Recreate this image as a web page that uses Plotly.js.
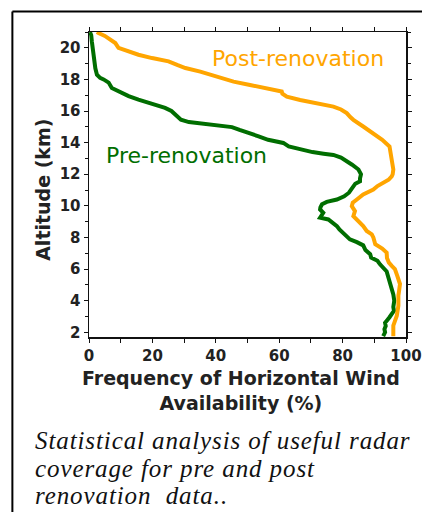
<!DOCTYPE html>
<html>
<head>
<meta charset="utf-8">
<script src="https://cdn.plot.ly/plotly-3.0.1.min.js"></script>
<style>
  html, body { margin: 0; padding: 0; background: #fff; }
  #chart { width: 422px; height: 512px; }
  g.annotation[data-index="4"] text,
  g.annotation[data-index="5"] text,
  g.annotation[data-index="6"] text { letter-spacing: 0.9px; }
</style>
</head>
<body>
<div id="chart"></div>
<script>
// Pre-renovation profile: altitude (km) and frequency (%)
const preAltitude = [21.0, 20.8, 20.4, 20.0, 19.6, 19.14, 18.7, 18.3, 18.1, 18.0, 17.8, 17.46, 17.25, 16.94, 16.72, 16.45, 16.2, 16.0, 15.7, 15.45, 15.3, 15.19, 15.1, 14.98, 14.8, 14.6, 14.4, 14.18, 13.98, 13.76, 13.56, 13.4, 13.3, 13.22, 13.05, 12.82, 12.6, 12.3, 12.0, 11.75, 11.56, 11.4, 11.24, 11.0, 10.83, 10.6, 10.4, 10.25, 10.1, 9.9, 9.77, 9.56, 9.4, 9.25, 9.14, 8.9, 8.72, 8.5, 8.3, 8.1, 7.88, 7.7, 7.5, 7.2, 6.94, 6.73, 6.52, 6.3, 6.1, 5.85, 5.5, 5.15, 4.8, 4.4, 4.0, 3.6, 3.36, 3.1, 2.95, 2.75, 2.6, 2.4, 2.2, 2.0, 1.75];
const preFrequency = [0.3, 0.7, 0.9, 1.1, 1.3, 1.5, 2.0, 2.5, 3.5, 4.6, 6.2, 7.2, 9.3, 12.5, 15.6, 19.8, 24.0, 26.0, 27.5, 29.0, 31.5, 35.6, 40.9, 45.1, 47.5, 50.8, 53.5, 56.5, 61.3, 63.0, 66.6, 70.5, 74.0, 77.1, 79.5, 81.5, 83.0, 85.0, 85.8, 85.5, 85.5, 84.0, 83.4, 82.5, 82.0, 80.5, 78.2, 75.0, 73.5, 73.0, 72.9, 73.9, 73.2, 72.9, 75.5, 77.0, 78.2, 79.0, 80.2, 81.3, 82.3, 84.5, 86.5, 87.2, 88.7, 89.0, 91.0, 91.8, 92.8, 93.9, 94.4, 95.0, 95.5, 96.0, 96.3, 96.0, 96.2, 95.5, 94.8, 94.0, 93.4, 93.6, 93.2, 93.4, 92.8];

// Post-renovation profile: altitude (km) and frequency (%)
const postAltitude = [21.0, 20.93, 20.75, 20.6, 20.45, 20.3, 20.0, 19.77, 19.56, 19.35, 19.14, 18.9, 18.72, 18.49, 18.17, 17.86, 17.65, 17.44, 17.23, 17.1, 16.91, 16.7, 16.5, 16.28, 16.1, 15.87, 15.6, 15.44, 15.02, 14.6, 14.18, 13.76, 13.5, 13.13, 12.7, 12.3, 12.0, 11.87, 11.65, 11.46, 11.25, 11.03, 10.72, 10.4, 10.2, 9.98, 9.67, 9.35, 9.04, 8.72, 8.41, 8.2, 8.0, 7.57, 7.3, 7.04, 6.7, 6.41, 6.2, 6.0, 5.6, 5.2, 5.05, 4.6, 4.31, 3.68, 3.05, 2.7, 2.42, 2.0, 1.75];
const postFrequency = [2.5, 3.0, 5.0, 6.2, 7.5, 8.3, 9.3, 12.5, 15.6, 19.9, 25.1, 28.0, 30.4, 35.1, 40.3, 45.6, 50.8, 56.1, 60.8, 61.0, 62.4, 66.6, 71.9, 77.1, 79.5, 81.3, 82.5, 83.4, 86.5, 89.7, 92.5, 94.8, 95.0, 95.5, 95.8, 96.0, 95.8, 95.5, 94.5, 92.8, 91.0, 89.7, 86.5, 84.5, 83.2, 82.9, 83.9, 83.4, 85.0, 86.5, 87.6, 89.2, 89.7, 90.3, 92.5, 93.9, 94.0, 94.6, 95.5, 96.5, 97.2, 97.8, 98.1, 97.8, 97.6, 97.6, 97.1, 96.5, 96.0, 96.0, 96.0];

const seriesNames = ["Post-renovation", "Pre-renovation"];
const xTitleText = "Frequency of Horizontal Wind<br>Availability (%)";
const yTitleText = "Altitude (km)";
const captionLines = ["Statistical analysis of useful radar", "coverage for pre and post", "renovation  data.."];

const orange = "#FFA500";
const green = "#006E00";

const traces = [
  { x: preFrequency, y: preAltitude, mode: "lines", name: seriesNames[1],
    line: { color: green, width: 4 }, hoverinfo: "skip" },
  { x: postFrequency, y: postAltitude, mode: "lines", name: seriesNames[0],
    line: { color: orange, width: 4 }, hoverinfo: "skip" }
];

const tickFont = { family: "DejaVu Sans", size: 15, color: "#222", weight: "bold" };
const axisCommon = {
  showgrid: false, zeroline: false, showline: true, linecolor: "#111", linewidth: 1.5,
  mirror: "ticks", ticks: "outside", ticklen: 4, tickwidth: 1, tickcolor: "#111",
  tickfont: tickFont
};

const captionFont = { family: "Liberation Serif", size: 25, color: "#111", style: "italic" };

const layout = {
  width: 422, height: 512,
  margin: { l: 89, r: 16, t: 32, b: 175 },
  paper_bgcolor: "#fff", plot_bgcolor: "#fff",
  showlegend: false,
  xaxis: Object.assign({}, axisCommon, {
    range: [0, 100], dtick: 20, tick0: 0,
    minor: { dtick: 10, ticks: "outside", ticklen: 4, tickcolor: "#111" }
  }),
  yaxis: Object.assign({}, axisCommon, {
    range: [1.7, 21], dtick: 2, tick0: 0,
    minor: { dtick: 1, ticks: "outside", ticklen: 3, tickcolor: "#111" }
  }),
  annotations: [
    { text: seriesNames[0], xref: "x", yref: "y", x: 65.8, y: 19.35, showarrow: false,
      font: { family: "DejaVu Sans", size: 22, color: orange } },
    { text: seriesNames[1], xref: "x", yref: "y", x: 30.8, y: 13.18, showarrow: false,
      font: { family: "DejaVu Sans", size: 22, color: green } },
    { text: xTitleText, xref: "paper", yref: "paper", x: 0.48, y: -0.175, showarrow: false,
      xanchor: "center", yanchor: "middle",
      font: { family: "DejaVu Sans", size: 19, color: "#222", weight: "bold" } },
    { text: yTitleText, xref: "paper", yref: "paper", x: -0.1456, y: 0.482, showarrow: false,
      textangle: -90, xanchor: "center", yanchor: "middle",
      font: { family: "DejaVu Sans", size: 19, color: "#222", weight: "bold" } },
    { text: captionLines[0], xref: "paper", yref: "paper", x: -0.1755, y: (337 - 440) / 305,
      showarrow: false, xanchor: "left", yanchor: "middle", align: "left", font: captionFont },
    { text: captionLines[1], xref: "paper", yref: "paper", x: -0.1755, y: (337 - 468) / 305,
      showarrow: false, xanchor: "left", yanchor: "middle", align: "left", font: captionFont },
    { text: captionLines[2], xref: "paper", yref: "paper", x: -0.1755, y: (337 - 495) / 305,
      showarrow: false, xanchor: "left", yanchor: "middle", align: "left", font: captionFont }
  ],
  shapes: [
    { type: "line", xref: "paper", yref: "paper", x0: -0.2417, x1: -0.2417, y0: -1.2, y1: 1.0672,
      line: { color: "#000", width: 2 } },
    { type: "line", xref: "paper", yref: "paper", x0: -0.2417, x1: 1.2, y0: 1.0672, y1: 1.0672,
      line: { color: "#000", width: 2 } }
  ]
};

Plotly.newPlot("chart", traces, layout, { staticPlot: true, displayModeBar: false });
</script>
</body>
</html>
